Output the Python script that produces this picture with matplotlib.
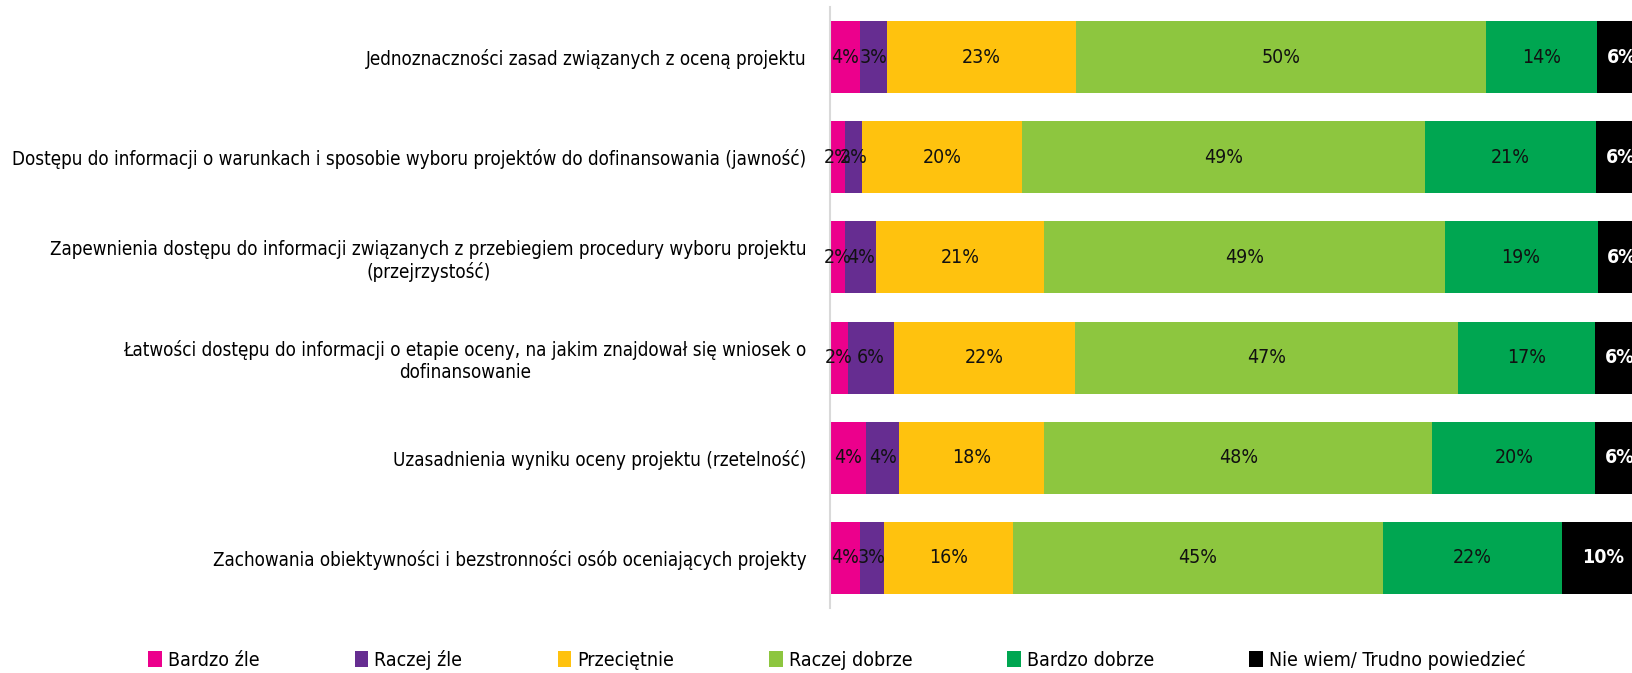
import matplotlib
matplotlib.use("Agg")
import matplotlib.pyplot as plt
from matplotlib import font_manager

# survey answers, share of respondents in %
categories = [
    "Jednoznaczności zasad związanych z oceną projektu",
    "Dostępu do informacji o warunkach i sposobie wyboru projektów do dofinansowania (jawność)",
    "Zapewnienia dostępu do informacji związanych z przebiegiem procedury wyboru projektu\n(przejrzystość)",
    "Łatwości dostępu do informacji o etapie oceny, na jakim znajdował się wniosek o\ndofinansowanie",
    "Uzasadnienia wyniku oceny projektu (rzetelność)",
    "Zachowania obiektywności i bezstronności osób oceniających projekty",
]
series = ["Bardzo źle", "Raczej źle", "Przeciętnie", "Raczej dobrze", "Bardzo dobrze",
          "Nie wiem/ Trudno powiedzieć"]
bardzo_zle = [3.7, 1.8, 1.9, 2.2, 4.4, 3.7]
raczej_zle = [3.3, 2.1, 3.7, 5.6, 4.1, 2.9]
przecietnie = [23.2, 19.7, 20.7, 22.3, 17.8, 15.9]
raczej_dobrze = [50.3, 49.4, 49.1, 46.9, 47.6, 45.3]
bardzo_dobrze = [13.6, 21.0, 18.8, 16.9, 20.0, 22.0]
nie_wiem = [6.0, 6.0, 5.8, 6.1, 6.0, 10.2]

values = [bardzo_zle, raczej_zle, przecietnie, raczej_dobrze, bardzo_dobrze, nie_wiem]
colors = ["#EC008C", "#662D91", "#FFC20E", "#8DC63F", "#00A651", "#000000"]
label_colors = ["#111111"] * 5 + ["white"]

# condensed font if available
names = {f.name for f in font_manager.fontManager.ttflist}
if "Liberation Sans Narrow" in names:
    plt.rcParams["font.family"] = ["Liberation Sans Narrow", "DejaVu Sans"]
    stretch = "normal"
else:
    plt.rcParams["font.family"] = ["DejaVu Sans"]
    stretch = "condensed"

fig = plt.figure(figsize=(16.32, 6.73), dpi=100)
ax = fig.add_axes([830 / 1632, 1 - 608 / 673, 815 / 1632, 601 / 673])

y = list(range(len(categories)))
left = [0.0] * len(categories)
handles = []
for vals, col, lcol, name in zip(values, colors, label_colors, series):
    bars = ax.barh(y, vals, left=left, height=0.72, color=col, label=name)
    handles.append(bars)
    for yi, v, l in zip(y, vals, left):
        ax.text(l + v / 2, yi, f"{v:.0f}%", ha="center", va="center", fontsize=14,
                color=lcol, fontweight="bold" if lcol == "white" else "normal",
                fontstretch=stretch)
    left = [a + b for a, b in zip(left, vals)]

ax.set_xlim(0, 100)
ax.set_ylim(len(categories) - 0.5, -0.5)
ax.set_yticks(y)
ax.set_yticklabels(categories, fontsize=13.5, multialignment="center", fontstretch=stretch)
ax.tick_params(axis="y", length=0, pad=17)
ax.set_xticks([])
for s in ["top", "right", "bottom"]:
    ax.spines[s].set_visible(False)
ax.spines["left"].set_color("#d9d9d9")
ax.spines["left"].set_linewidth(1.5)

leg = fig.legend(handles=handles, labels=series, loc="center", ncol=6,
                 bbox_to_anchor=(837 / 1632, 1 - 660 / 673), frameon=False,
                 handlelength=0.7, handleheight=0.9, handletextpad=0.3,
                 columnspacing=4.9, prop={"size": 14, "stretch": stretch})

fig.savefig("out.png", dpi=100)
